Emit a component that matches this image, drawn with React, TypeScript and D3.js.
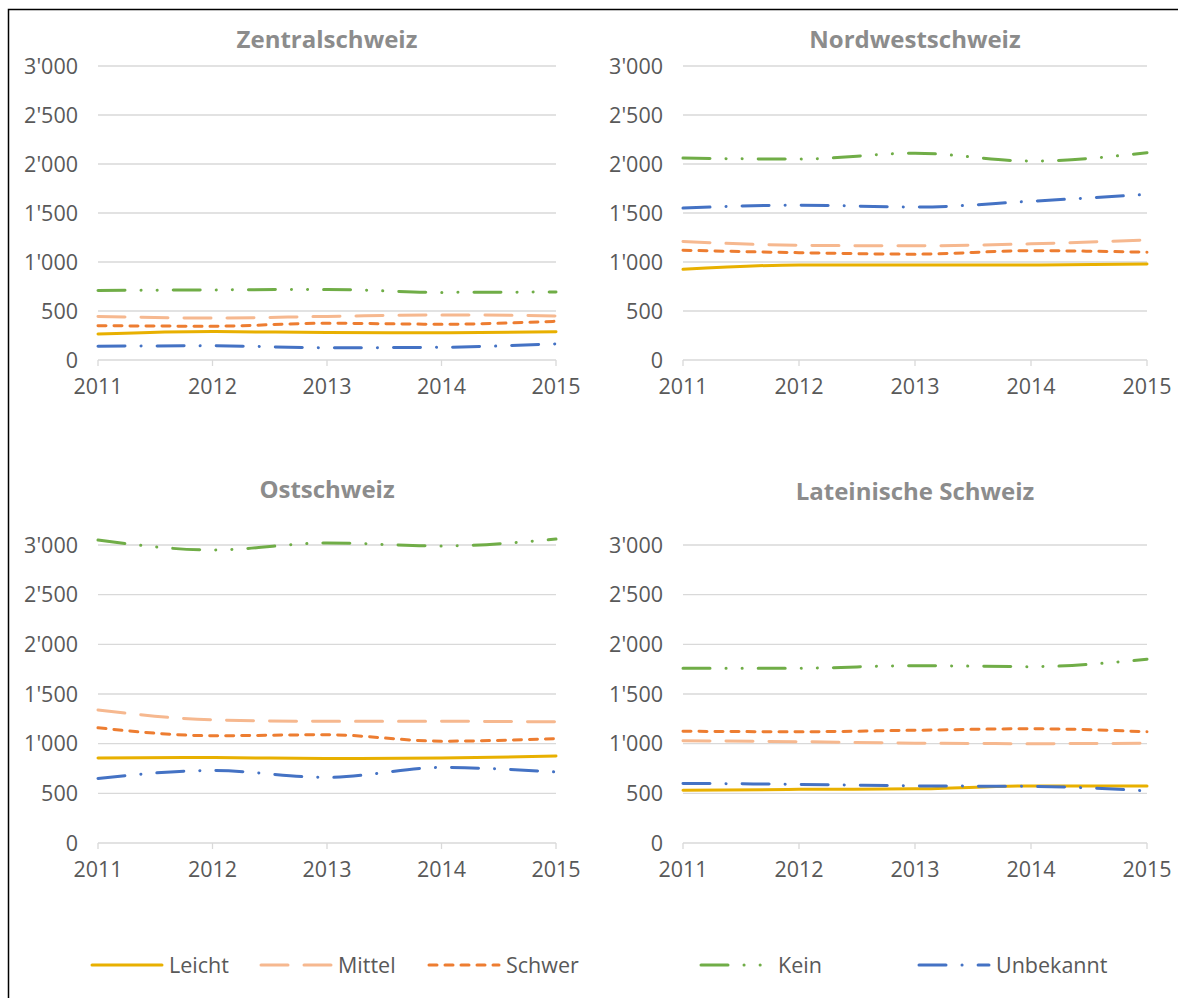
import React from "react";
import * as d3 from "d3";

// years on the x axis
const years = [2011, 2012, 2013, 2014, 2015];
const yTicks = [0, 500, 1000, 1500, 2000, 2500, 3000];
const seriesNames = ["Leicht", "Mittel", "Schwer", "Kein", "Unbekannt"];

// values per region, in seriesNames order
const zentralschweiz = [
  [265, 290, 280, 278, 288],
  [445, 428, 445, 460, 450],
  [350, 345, 375, 365, 395],
  [710, 715, 720, 690, 695],
  [140, 145, 125, 130, 165],
];
const nordwestschweiz = [
  [925, 970, 970, 970, 980],
  [1210, 1170, 1165, 1185, 1225],
  [1120, 1095, 1080, 1115, 1100],
  [2060, 2050, 2110, 2030, 2115],
  [1550, 1580, 1560, 1620, 1690],
];
const ostschweiz = [
  [855, 860, 850, 855, 875],
  [1340, 1240, 1225, 1225, 1220],
  [1160, 1080, 1090, 1025, 1050],
  [3050, 2950, 3020, 2990, 3060],
  [650, 730, 660, 760, 715],
];
const lateinischeSchweiz = [
  [530, 540, 545, 575, 575],
  [1030, 1020, 1005, 1000, 1005],
  [1125, 1120, 1135, 1150, 1120],
  [1760, 1760, 1785, 1775, 1850],
  [600, 590, 575, 570, 525],
];

const styles = [
  { color: "#E8B000", dash: "" },
  { color: "#F6B88F", dash: "27,16" },
  { color: "#ED7D31", dash: "8,8" },
  { color: "#70AD47", dash: "27,16,0.1,16,0.1,16" },
  { color: "#4472C4", dash: "27,16,0.1,16" },
];

const panels = [
  { title: "Zentralschweiz", data: zentralschweiz, x0: 98, x1: 556, y0: 360, y1: 66, ty: 48 },
  { title: "Nordwestschweiz", data: nordwestschweiz, x0: 683, x1: 1147, y0: 360, y1: 66, ty: 48 },
  { title: "Ostschweiz", data: ostschweiz, x0: 98, x1: 556, y0: 843, y1: 545, ty: 498 },
  { title: "Lateinische Schweiz", data: lateinischeSchweiz, x0: 683, x1: 1147, y0: 843, y1: 545, ty: 500 },
];

const legendPos = [92, 261, 429, 701, 919];

const font = "'Open Sans', 'Noto Sans', sans-serif";
const fmt = (v: number) => d3.format(",")(v).replace(/,/g, "'");

const Panel = ({ p }: { p: any }) => {
  const x = d3.scaleLinear().domain([2011, 2015]).range([p.x0, p.x1]);
  const y = d3.scaleLinear().domain([0, 3000]).range([p.y0, p.y1]);
  const line = d3
    .line<number>()
    .x((_, i) => x(years[i]))
    .y((d) => y(d))
    .curve(d3.curveMonotoneX);
  return (
    <g>
      <text
        x={(p.x0 + p.x1) / 2}
        y={p.ty}
        textAnchor="middle"
        fontWeight="bold"
        fontSize={24}
        fill="#8c8c8c"
      >
        {p.title}
      </text>
      {yTicks.map((t) => (
        <g key={t}>
          <line x1={p.x0} x2={p.x1} y1={y(t)} y2={y(t)} stroke="#d9d9d9" strokeWidth={1.3} />
          <text x={p.x0 - 20} y={y(t)} dy="0.35em" textAnchor="end" fontSize={21.5} fill="#595959">
            {fmt(t)}
          </text>
        </g>
      ))}
      {years.map((yr) => (
        <g key={yr}>
          <line x1={x(yr)} x2={x(yr)} y1={p.y0} y2={p.y0 + 6} stroke="#d9d9d9" strokeWidth={1.3} />
          <text x={x(yr)} y={p.y0 + 34} textAnchor="middle" fontSize={21.5} fill="#595959">
            {yr}
          </text>
        </g>
      ))}
      {p.data.map((vals: number[], i: number) => (
        <path
          key={i}
          d={line(vals) || ""}
          fill="none"
          stroke={styles[i].color}
          strokeWidth={3}
          strokeDasharray={styles[i].dash}
          strokeLinecap="round"
        />
      ))}
    </g>
  );
};

export default function App() {
  return (
    <svg
      width={1178}
      height={998}
      style={{ position: "absolute", left: 0, top: 0, background: "#fff" }}
      fontFamily={font}
    >
      <rect width={1178} height={998} fill="#fff" />
      <path d="M8.5,998V9.5H1178" fill="none" stroke="#000" strokeWidth={1.5} />
      {panels.map((p) => (
        <Panel key={p.title} p={p} />
      ))}
      {seriesNames.map((name, i) => (
        <g key={name}>
          <line
            x1={legendPos[i]}
            x2={legendPos[i] + 70}
            y1={965}
            y2={965}
            stroke={styles[i].color}
            strokeWidth={3}
            strokeDasharray={styles[i].dash}
            strokeLinecap="round"
          />
          <text x={legendPos[i] + 77} y={965} dy="0.35em" fontSize={21.5} fill="#595959">
            {name}
          </text>
        </g>
      ))}
    </svg>
  );
}
